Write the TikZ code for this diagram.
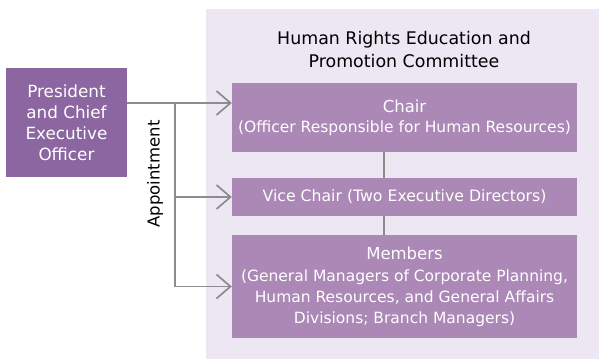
\documentclass[tikz,border=0pt]{standalone}
\usepackage{fontspec}
\setmainfont{DejaVu Sans}
\usetikzlibrary{arrows.meta}
\definecolor{panelbg}{HTML}{EDE7F3}
\definecolor{boxpurple}{HTML}{AB88B6}
\definecolor{prespurple}{HTML}{8C66A0}
\definecolor{wiregray}{HTML}{8C8C8C}
\tikzset{
  box/.style={fill=boxpurple, text=white, align=center, inner sep=0pt, minimum width=345pt, font=\fontsize{16.5}{21}\selectfont},
  wire/.style={draw=wiregray, line width=1.7pt},
  appoint/.style={wire, -{Straight Barb[length=14pt, width=24pt]}}
}
\newcommand{\subline}{\fontsize{15.5}{21}\selectfont}

\begin{document}
\begin{tikzpicture}[x=1pt, y=-1pt]
			%%%%% START %%%%%
			\useasboundingbox (0, 0) rectangle (599, 360);
			\fill[panelbg] (206, 9) rectangle (599, 359);
			
			\node[align=center, font=\fontsize{17.4}{23}\selectfont] (title) at (404, 50) {Human Rights Education and\\Promotion Committee};
			
			\node[box, minimum height=69pt] (chair) at (404.5, 117.5) {Chair\\[-1pt]\subline (Officer Responsible for Human Resources)};
			\node[box, minimum height=38pt, font=\fontsize{15.7}{21}\selectfont] (vice) at (404.5, 197) {Vice Chair (Two Executive Directors)};
			\node[box, minimum height=103pt] (members) at (404.5, 286.5) {Members\\[1pt]\subline (General Managers of Corporate Planning,\\\subline Human Resources, and General Affairs\\\subline Divisions; Branch Managers)};
			
			\node[fill=prespurple, text=white, align=center, inner sep=0pt, minimum width=121pt, minimum height=109pt, font=\fontsize{16.8}{21}\selectfont] (pres) at (66.5, 122.5) {President\\and Chief\\Executive\\Officer};
			
			\node[rotate=90, font=\fontsize{16.5}{21}\selectfont] (appt) at (155, 174) {Appointment};
			
			\coordinate (split) at (175, 103);
			\draw[wire] (split -| pres.east) -- (split);
			\draw[appoint] (split) -- (split -| chair.west);
			\draw[appoint] (split |- vice.west) -- (vice.west);
			\draw[appoint] (split) |- (members.west);
			
			\draw[wire] ([xshift=-20.5pt]chair.south) -- ([xshift=-20.5pt]vice.north);
			\draw[wire] ([xshift=-20.5pt]vice.south) -- ([xshift=-20.5pt]members.north);
			%%%%% END %%%%%
\end{tikzpicture}
\end{document}
